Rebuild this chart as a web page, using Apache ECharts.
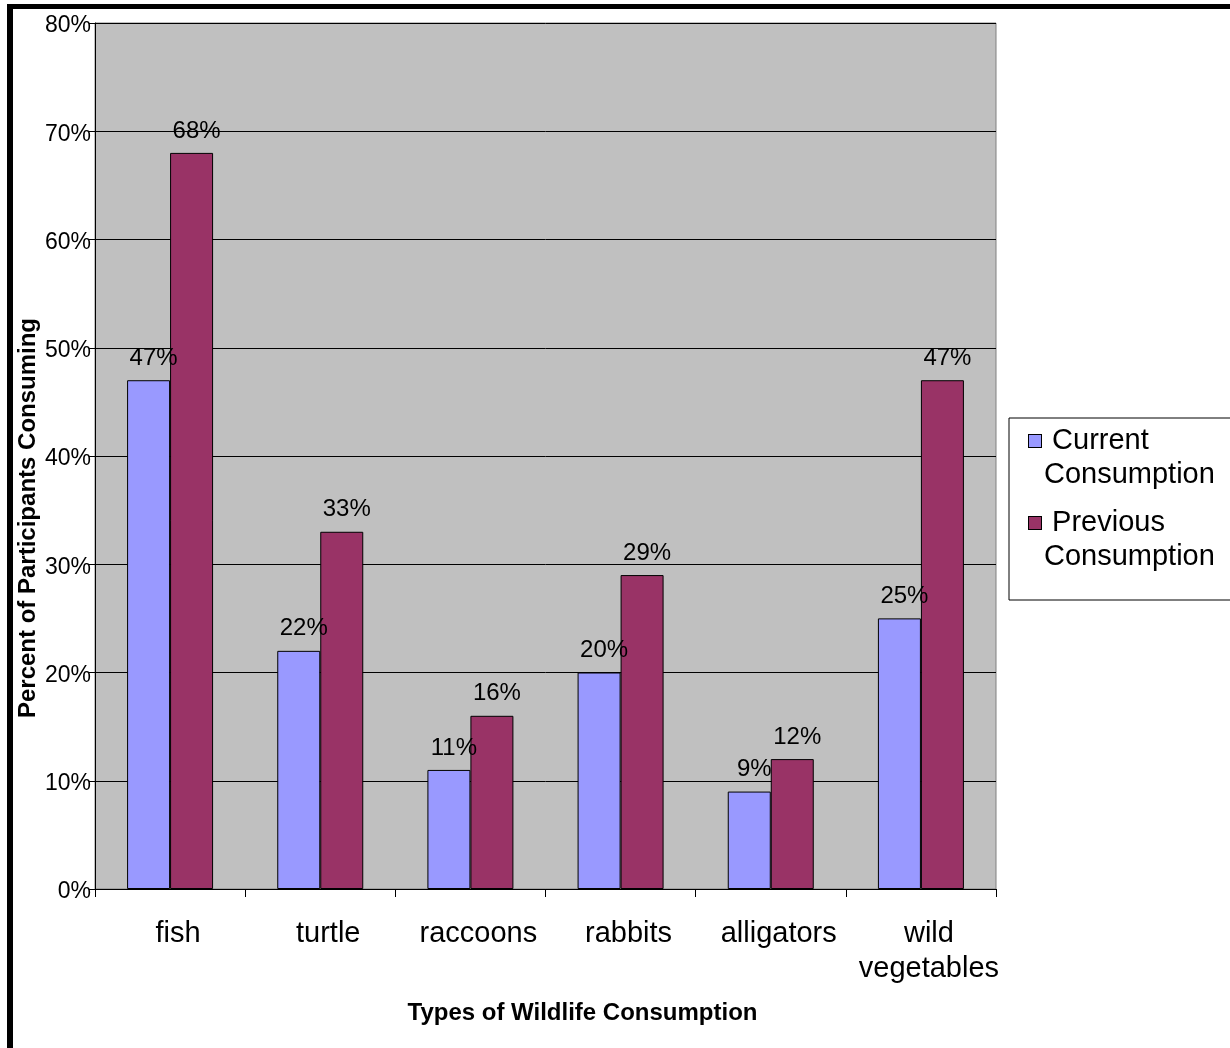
<!DOCTYPE html>
<html>
<head>
<meta charset="utf-8">
<script src="https://cdn.jsdelivr.net/npm/echarts@6/dist/echarts.min.js"></script>
<style>
  html, body { margin: 0; padding: 0; background: #ffffff; }
  #chart { width: 1230px; height: 1048px; }
</style>
</head>
<body>
<div id="chart"></div>
<script>
// Wildlife consumption among participants, current vs previous (percent)
const categories = ['fish', 'turtle', 'raccoons', 'rabbits', 'alligators', 'wild\nvegetables'];
const currentConsumption = [47, 22, 11, 20, 9, 25];
const previousConsumption = [68, 33, 16, 29, 12, 47];
const seriesNames = ['Current Consumption', 'Previous Consumption'];

const FONT = 'Arial, "Liberation Sans", sans-serif';
const chart = echarts.init(document.getElementById('chart'), null, { renderer: 'canvas' });

const valueLabel = {
  show: true,
  position: 'top',
  distance: 10,
  offset: [5, 0],
  formatter: p => p.value + '%',
  color: '#000',
  fontFamily: FONT,
  fontSize: 24
};

const legendText = {
  'Current Consumption': '{s1|}{t| Current}\n{t2|Consumption}',
  'Previous Consumption': '{s2|}{t| Previous}\n{t2|Consumption}'
};

chart.setOption({
  animation: false,
  backgroundColor: '#ffffff',
  textStyle: { fontFamily: FONT, color: '#000' },
  grid: {
    left: 95, right: 234, top: 23, bottom: 159,
    show: true,
    backgroundColor: '#C0C0C0',
    borderColor: '#808080',
    borderWidth: 1,
    containLabel: false
  },
  legend: {
    orient: 'vertical',
    left: 1009,
    top: 418,
    padding: [6, 40, 26, 14],
    itemWidth: 0,
    itemHeight: 0,
    itemGap: 14,
    selectedMode: false,
    backgroundColor: '#ffffff',
    borderColor: '#000000',
    borderWidth: 1,
    data: seriesNames,
    formatter: name => legendText[name],
    textStyle: {
      fontFamily: FONT,
      fontSize: 29,
      lineHeight: 34,
      color: '#000',
      rich: {
        s1: { width: 12, height: 12, backgroundColor: '#9999FF', borderColor: '#000', borderWidth: 1 },
        s2: { width: 12, height: 12, backgroundColor: '#993366', borderColor: '#000', borderWidth: 1 },
        t: { fontFamily: FONT, fontSize: 29, lineHeight: 34, color: '#000', padding: [0, 0, 0, 3] },
        t2: { fontFamily: FONT, fontSize: 29, lineHeight: 34, color: '#000', padding: [0, 0, 0, 15] }
      }
    }
  },
  xAxis: {
    type: 'category',
    data: categories,
    name: 'Types of Wildlife Consumption',
    nameLocation: 'middle',
    nameGap: 112,
    nameMoveOverlap: false,
    nameTextStyle: { fontFamily: FONT, fontSize: 24, fontWeight: 'bold', color: '#000', padding: [0, 0, 0, 74] },
    axisLine: { lineStyle: { color: '#000', width: 1 } },
    axisTick: { show: true, alignWithLabel: false, length: 8, lineStyle: { color: '#000' } },
    axisLabel: {
      interval: 0,
      margin: 27,
      fontFamily: FONT,
      fontSize: 29,
      lineHeight: 35,
      color: '#000',
      padding: [0, 0, 0, 16]
    },
    splitLine: { show: false }
  },
  yAxis: {
    type: 'value',
    min: 0,
    max: 80,
    interval: 10,
    name: 'Percent of Participants Consuming',
    nameLocation: 'middle',
    nameGap: 55,
    nameMoveOverlap: false,
    nameTextStyle: { fontFamily: FONT, fontSize: 24, fontWeight: 'bold', color: '#000', padding: [0, 124, 0, 0] },
    axisLine: { show: true, lineStyle: { color: '#000', width: 1 } },
    axisTick: { show: true, length: 6, lineStyle: { color: '#000' } },
    axisLabel: {
      formatter: '{v|{value}%}',
      margin: 4,
      color: '#000',
      rich: {
        v: { fontFamily: FONT, fontSize: 23, color: '#000', padding: [6, 0, 0, 0] }
      }
    },
    splitLine: { show: true, lineStyle: { color: '#000', width: 1 } }
  },
  series: [
    {
      name: seriesNames[0],
      type: 'bar',
      data: currentConsumption,
      barWidth: 43,
      barGap: '0%',
      itemStyle: { color: '#9999FF', borderColor: '#000', borderWidth: 1 },
      label: valueLabel
    },
    {
      name: seriesNames[1],
      type: 'bar',
      data: previousConsumption,
      barWidth: 43,
      barGap: '0%',
      itemStyle: { color: '#993366', borderColor: '#000', borderWidth: 1 },
      label: valueLabel
    }
  ],
  graphic: [
    // outer frame: top and left edges
    { type: 'rect', left: 7, top: 4, shape: { width: 1223, height: 5 }, style: { fill: '#000' }, z: 100 },
    { type: 'rect', left: 7, top: 4, shape: { width: 6, height: 1044 }, style: { fill: '#000' }, z: 100 }
  ]
});
</script>
</body>
</html>
